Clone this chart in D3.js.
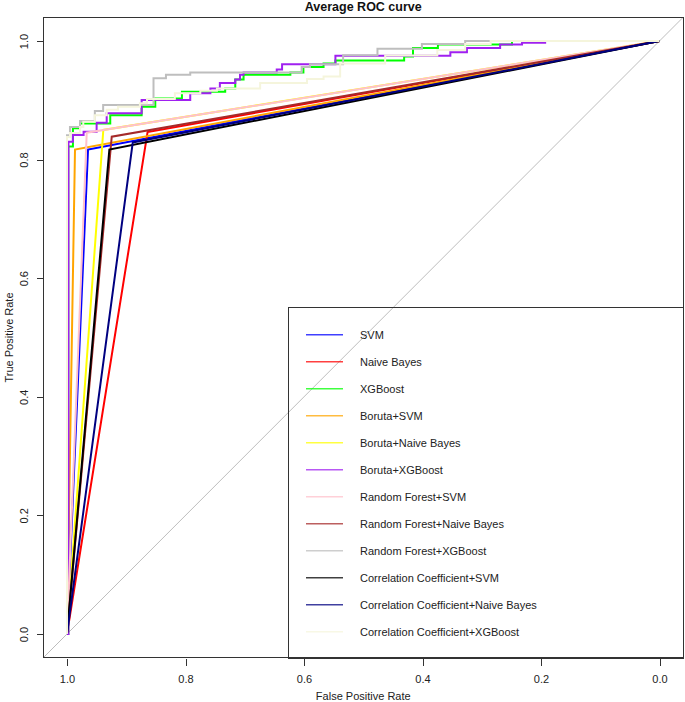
<!DOCTYPE html>
<meta charset="utf-8">
<style>

body {
  margin: 0;
  background: #fff;
}

svg {
  display: block;
  font-family: "Liberation Sans", Arial, sans-serif;
}

.axis text {
  font-size: 11px;
  fill: #222;
}

.axis line {
  stroke: #333;
  shape-rendering: crispEdges;
}

.axis path {
  display: none;
}

.frame {
  fill: none;
  stroke: #333;
  shape-rendering: crispEdges;
}

.roc {
  fill: none;
  stroke-width: 2;
  stroke-linejoin: miter;
}

.legend text {
  font-size: 11px;
  fill: #222;
}

</style>
<body>
<script src="https://d3js.org/d3.v7.min.js"></script>
<script>

// models in the order they were plotted
var modelNames = ["SVM", "Naive Bayes", "XGBoost", "Boruta+SVM", "Boruta+Naive Bayes",
  "Boruta+XGBoost", "Random Forest+SVM", "Random Forest+Naive Bayes", "Random Forest+XGBoost",
  "Correlation Coefficient+SVM", "Correlation Coefficient+Naive Bayes", "Correlation Coefficient+XGBoost"];
var modelColors = ["#0000ff", "#ff0000", "#00ff00", "#ffa500", "#ffff00", "#a020f0",
  "#ffc0cb", "#a52a2a", "#bebebe", "#000000", "#000080", "#f5f5dc"];

// specificity / sensitivity of each averaged ROC curve
var svmSpec = [1, 0.9645, 0],   svmSens = [0, 0.817, 1];
var nbSpec = [1, 0.864, 0],     nbSens = [0, 0.8465, 1];
var xgbSpec = [1, 0.9978, 0.990, 0.978, 0.927, 0.874, 0.851, 0.806, 0.733, 0.716, 0.702,
  0.623, 0.601, 0.567, 0.547, 0.431, 0.416, 0.374, 0.249, 0];
var xgbSens = [0, 0.822, 0.853, 0.861, 0.875, 0.889, 0.903, 0.9145, 0.920, 0.935, 0.943,
  0.947, 0.956, 0.962, 0.967, 0.974, 0.988, 0.994, 1, 1];
var brSvmSpec = [1, 0.9865, 0], brSvmSens = [0, 0.817, 1];
var brNbSpec = [1, 0.9387, 0],  brNbSens = [0, 0.850, 1];
var brXgbSpec = [1, 0.9975, 0.990, 0.972, 0.950, 0.933, 0.874, 0.792, 0.758, 0.742, 0.716,
  0.708, 0.702, 0.646, 0.637, 0.547, 0.353, 0.325, 0.269, 0.232, 0.193, 0];
var brXgbSens = [0, 0.830, 0.8415, 0.847, 0.862, 0.878, 0.9005, 0.912, 0.920, 0.929, 0.935,
  0.943, 0.947, 0.952, 0.961, 0.975, 0.981, 0.988, 0.994, 0.997, 1, 1];
var rfSvmSpec = [1, 0.9667, 0], rfSvmSens = [0, 0.8454, 1];
var rfNbSpec = [1, 0.9245, 0],  rfNbSens = [0, 0.8386, 1];
var rfXgbSpec = [1, 1, 0.995, 0.978, 0.953, 0.939, 0.854, 0.833, 0.792, 0.604, 0.590,
  0.534, 0.476, 0.401, 0.328, 0];
var rfXgbSens = [0, 0.841, 0.855, 0.865, 0.882, 0.892, 0.937, 0.943, 0.947, 0.956, 0.961,
  0.976, 0.987, 0.995, 1, 1];
var ccSvmSpec = [1, 0.9285, 0], ccSvmSens = [0, 0.817, 1];
var ccNbSpec = [1, 0.889, 0],   ccNbSens = [0, 0.829, 1];
var ccXgbSpec = [1, 1, 0.995, 0.978, 0.9725, 0.953, 0.933, 0.914, 0.877, 0.865, 0.818,
  0.775, 0.747, 0.674, 0.595, 0.567, 0.539, 0.463, 0.375, 0.328, 0.285, 0];
var ccXgbSens = [0, 0.838, 0.845, 0.855, 0.864, 0.875, 0.884, 0.889, 0.895, 0.902, 0.912,
  0.916, 0.920, 0.929, 0.936, 0.940, 0.962, 0.9755, 0.985, 0.995, 1, 1];

var xTicks = [1.0, 0.8, 0.6, 0.4, 0.2, 0.0];
var yTicks = [0.0, 0.2, 0.4, 0.6, 0.8, 1.0];

var rocSpec = [svmSpec, nbSpec, xgbSpec, brSvmSpec, brNbSpec, brXgbSpec,
  rfSvmSpec, rfNbSpec, rfXgbSpec, ccSvmSpec, ccNbSpec, ccXgbSpec];
var rocSens = [svmSens, nbSens, xgbSens, brSvmSens, brNbSens, brXgbSens,
  rfSvmSens, rfNbSens, rfXgbSens, ccSvmSens, ccNbSens, ccXgbSens];

var width = 685, height = 702;
var lo = -0.04, hi = 1.04;   // R pads the axis range by 4%

var x = d3.scaleLinear().domain([1, 0]).range([67, 659.5]);
var y = d3.scaleLinear().domain([0, 1]).range([634, 41]);

var fmt = d3.format(".1f");

var svg = d3.select("body").append("svg")
    .attr("width", width)
    .attr("height", height);

svg.append("clipPath")
    .attr("id", "plot-clip")
  .append("rect")
    .attr("x", x(hi))
    .attr("y", y(hi))
    .attr("width", x(lo) - x(hi))
    .attr("height", y(lo) - y(hi));

var plot = svg.append("g").attr("clip-path", "url(#plot-clip)");

// identity line
plot.append("line")
    .attr("x1", x(hi)).attr("y1", y(1 - hi))
    .attr("x2", x(lo)).attr("y2", y(1 - lo))
    .attr("stroke", "#bdbdbd")
    .attr("stroke-width", 1);

var line = d3.line()
    .x(function(d) { return x(d[0]); })
    .y(function(d) { return y(d[1]); });

modelNames.forEach(function(name, i) {
  var pts = rocSpec[i].map(function(s, j) { return [s, rocSens[i][j]]; });
  // the XGBoost curves are staircases, the others straight segments
  var stepped = pts.length > 3;
  plot.append("path")
      .attr("class", "roc")
      .attr("stroke", modelColors[i])
      .attr("d", line.curve(stepped ? d3.curveStepAfter : d3.curveLinear)(pts));
});

// frame
svg.append("rect")
    .attr("class", "frame")
    .attr("x", Math.round(x(hi)) + 0.5)
    .attr("y", Math.round(y(hi)) + 0.5)
    .attr("width", Math.round(x(lo) - x(hi)))
    .attr("height", Math.round(y(lo) - y(hi)));

// x axis
svg.append("g")
    .attr("class", "axis")
    .attr("transform", "translate(0," + (Math.round(y(lo)) + 0.5) + ")")
    .call(d3.axisBottom(x).tickValues(xTicks).tickFormat(fmt).tickSize(7).tickPadding(9.5));

// y axis, labels parallel to the axis
svg.append("g")
    .attr("class", "axis")
    .attr("transform", "translate(" + (Math.round(x(hi)) + 0.5) + ",0)")
    .call(d3.axisLeft(y).tickValues(yTicks).tickFormat(fmt).tickSize(7))
  .selectAll("text")
    .attr("x", null)
    .attr("dy", null)
    .attr("text-anchor", "middle")
    .attr("transform", "translate(-16,0) rotate(-90)");

svg.append("text")
    .attr("x", (x(hi) + x(lo)) / 2)
    .attr("y", 11)
    .attr("text-anchor", "middle")
    .style("font-size", "12.5px")
    .style("font-weight", "bold")
    .style("fill", "#111")
    .text("Average ROC curve");

svg.append("text")
    .attr("x", (x(hi) + x(lo)) / 2)
    .attr("y", 700)
    .attr("text-anchor", "middle")
    .style("font-size", "11px")
    .style("fill", "#222")
    .text("False Positive Rate");

svg.append("text")
    .attr("transform", "translate(13," + ((y(hi) + y(lo)) / 2) + ") rotate(-90)")
    .attr("text-anchor", "middle")
    .style("font-size", "11px")
    .style("fill", "#222")
    .text("True Positive Rate");

// legend
var legend = svg.append("g").attr("class", "legend");

legend.append("rect")
    .attr("class", "frame")
    .attr("x", 288.5)
    .attr("y", 307.5)
    .attr("width", Math.round(x(lo)) - 288)
    .attr("height", Math.round(y(lo)) - 307);

var rows = legend.selectAll(".row")
    .data(modelNames)
  .enter().append("g")
    .attr("class", "row")
    .attr("transform", function(d, i) { return "translate(0," + (334.7 + i * 27) + ")"; });

rows.append("line")
    .attr("x1", 306).attr("x2", 343)
    .attr("stroke", function(d, i) { return modelColors[i]; })
    .attr("stroke-width", 1.6)
    .attr("stroke-opacity", 0.75);

rows.append("text")
    .attr("x", 360)
    .attr("y", 4.5)
    .text(function(d) { return d; });

</script>
